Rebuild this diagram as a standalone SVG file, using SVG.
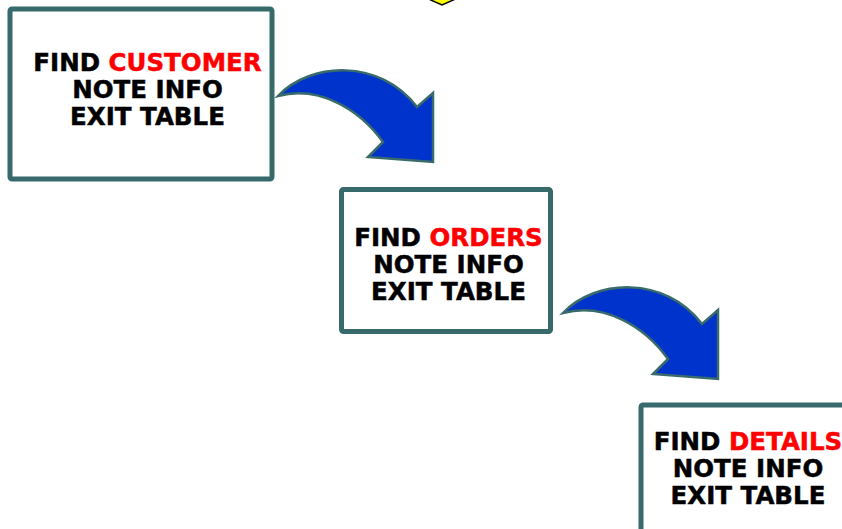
<svg xmlns="http://www.w3.org/2000/svg" width="842" height="529" viewBox="0 0 842 529">
<style>
.box{fill:#ffffff;stroke:#376b6b;stroke-width:5}
.t{font-family:"DejaVu Sans",Verdana,sans-serif;font-weight:bold;font-size:24.5px;fill:#000;stroke:#000;stroke-width:0.5;text-anchor:middle}
.r{fill:#ff0000;stroke:#ff0000}
.arr{fill:#0033cc;stroke:#3a6b6b;stroke-width:2.5;stroke-linejoin:miter}
</style>
<defs>
<path id="curve" d="M278,96 C310,62 380,58 417,107 L433,93 L433,162 L368,157 L383,142 C360,110 320,85 278,96 Z"/>
</defs>
<rect width="842" height="529" fill="#ffffff"/>
<g id="top-shape">
<polygon points="424,-3 442,5 460,-3" fill="#ffff00" stroke="#000" stroke-width="1.5"/>
</g>
<g id="connectors">
<use href="#curve" class="arr"/>
<use href="#curve" class="arr" transform="translate(285,217)"/>
</g>
<g id="node1">
<rect class="box" x="10" y="9" width="262" height="170" rx="2"/>
<text class="t" x="147.5" y="71">FIND <tspan class="r">CUSTOMER</tspan></text>
<text class="t" x="147.5" y="98">NOTE INFO</text>
<text class="t" x="147.5" y="125">EXIT TABLE</text>
</g>
<g id="node2">
<rect class="box" x="341.5" y="189.5" width="209" height="142" rx="2"/>
<text class="t" x="448.5" y="246">FIND <tspan class="r">ORDERS</tspan></text>
<text class="t" x="448.5" y="273">NOTE INFO</text>
<text class="t" x="448.5" y="300">EXIT TABLE</text>
</g>
<g id="node3">
<rect class="box" x="641" y="405" width="220" height="150" rx="2"/>
<text class="t" x="748" y="450">FIND <tspan class="r">DETAILS</tspan></text>
<text class="t" x="748" y="477">NOTE INFO</text>
<text class="t" x="748" y="504">EXIT TABLE</text>
</g>
</svg>
